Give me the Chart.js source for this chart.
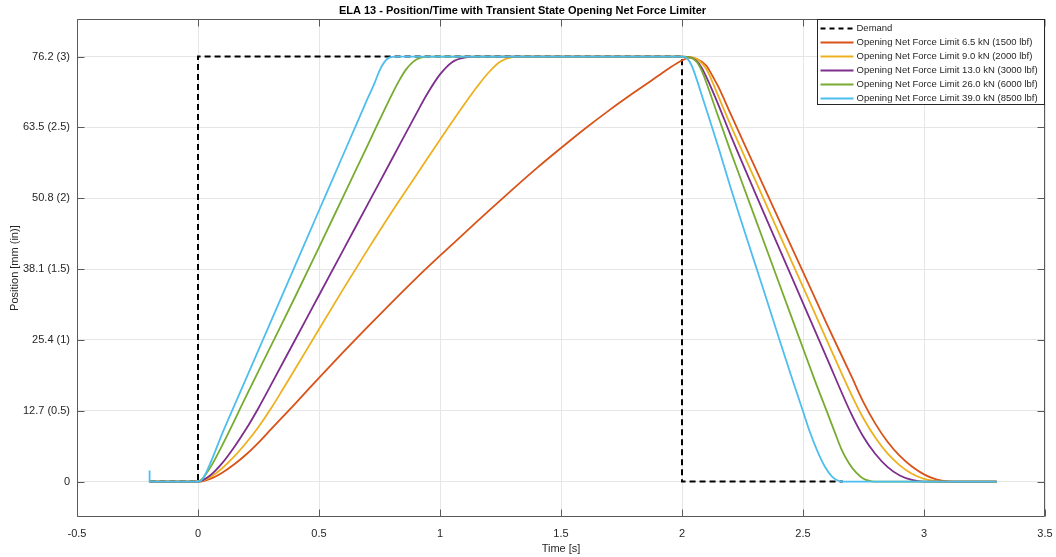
<!DOCTYPE html>
<html>
<head>
<meta charset="utf-8">
<script src="https://cdn.jsdelivr.net/npm/chart.js@4/dist/chart.umd.min.js"></script>
<style>
  html, body { margin: 0; padding: 0; background: #fff; }
</style>
</head>
<body>
<canvas id="chart" width="1056" height="557"></canvas>
<script>
// ticks
const xTicks = [-0.5, 0, 0.5, 1, 1.5, 2, 2.5, 3, 3.5];
const xTickLabels = ["-0.5", "0", "0.5", "1", "1.5", "2", "2.5", "3", "3.5"];
const yTicks = [0, 12.7, 25.4, 38.1, 50.8, 63.5, 76.2];
const yTickLabels = ["0", "12.7 (0.5)", "25.4 (1)", "38.1 (1.5)", "50.8 (2)", "63.5 (2.5)", "76.2 (3)"];

const seriesLabels = [
  "Demand",
  "Opening Net Force Limit 6.5 kN (1500 lbf)",
  "Opening Net Force Limit 9.0 kN (2000 lbf)",
  "Opening Net Force Limit 13.0 kN (3000 lbf)",
  "Opening Net Force Limit 26.0 kN (6000 lbf)",
  "Opening Net Force Limit 39.0 kN (8500 lbf)",
];

// demand step
const demandT = [-0.2, 0, 0, 2, 2, 2.665];
const demandV = [0, 0, 76.2, 76.2, 0, 0];

// 6.5 kN
const t65 = [-0.2, 0, 0.05, 0.1, 0.15, 0.2, 0.25, 0.3, 0.4, 0.5, 0.6, 0.7, 0.8, 0.9, 1.0, 1.1, 1.2, 1.3, 1.4, 1.5, 1.6, 1.7, 1.8, 1.9, 1.95,
  2.0, 2.03, 2.06, 2.1, 2.13, 2.15, 2.2, 2.3, 2.4, 2.5, 2.6, 2.7, 2.75, 2.8, 2.85, 2.9, 2.95, 3.0, 3.05, 3.1, 3.15, 3.3];
const v65 = [0, 0, 0.5, 1.6, 3.1, 4.9, 7, 9.3, 13.9, 18.6, 23.2, 27.7, 32.1, 36.4, 40.5, 44.5, 48.5, 52.4, 56.2, 59.8, 63.3, 66.6, 69.7, 72.7, 74.2,
  75.5, 76, 75.8, 74.6, 72.4, 70.8, 66, 56.5, 47, 37.6, 28.1, 18.9, 14.2, 10.3, 7.1, 4.6, 2.7, 1.3, 0.4, 0.05, 0, 0];

// 9.0 kN
const t90 = [-0.2, 0, 0.05, 0.1, 0.15, 0.2, 0.25, 0.3, 0.35, 0.4, 0.5, 0.6, 0.7, 0.8, 0.9, 1.0, 1.1, 1.15, 1.2, 1.25, 1.3, 1.35,
  2.0, 2.04, 2.07, 2.1, 2.13, 2.15, 2.2, 2.3, 2.4, 2.5, 2.6, 2.7, 2.75, 2.8, 2.85, 2.9, 2.95, 3.0, 3.05, 3.1, 3.3];
const v90 = [0, 0, 0.8, 2.4, 4.5, 7, 9.8, 13, 16.5, 20.1, 27.3, 34.5, 41.5, 48.3, 54.8, 61.3, 67.6, 70.6, 73.3, 75.3, 76.1, 76.2,
  76.2, 76.1, 75.5, 74, 71.2, 69.1, 64, 54.3, 44.6, 34.9, 25.2, 15.6, 11.3, 7.8, 5, 2.9, 1.4, 0.5, 0.1, 0, 0];

// 13.0 kN
const t130 = [-0.2, 0, 0.05, 0.1, 0.15, 0.2, 0.25, 0.3, 0.4, 0.5, 0.6, 0.7, 0.8, 0.9, 0.95, 1.0, 1.05, 1.1, 1.15,
  2.0, 2.03, 2.06, 2.08, 2.1, 2.15, 2.2, 2.3, 2.4, 2.5, 2.6, 2.7, 2.75, 2.8, 2.85, 2.9, 2.95, 3.0, 3.3];
const v130 = [0, 0, 1.1, 3.3, 6.2, 9.5, 13.2, 17.2, 25.3, 33.4, 41.5, 49.6, 57.7, 65.8, 69.7, 73, 75.2, 76, 76.2,
  76.2, 76.1, 75.4, 74.3, 72.6, 67.6, 62.2, 52, 42, 32, 22, 12.1, 8, 4.9, 2.6, 1.1, 0.3, 0, 0];

// 26.0 kN
const t260 = [-0.2, 0, 0.05, 0.1, 0.2, 0.3, 0.4, 0.5, 0.6, 0.7, 0.75, 0.8, 0.83, 0.86, 0.89, 0.92, 0.96,
  2.0, 2.03, 2.06, 2.08, 2.1, 2.15, 2.2, 2.25, 2.3, 2.35, 2.4, 2.45, 2.5, 2.55, 2.6, 2.63, 2.66, 2.69, 2.72, 2.75, 2.78, 2.8, 3.3];
const v260 = [0, 0, 2.5, 6.5, 15.4, 24.2, 33, 42, 51.1, 60.2, 64.8, 69.3, 71.8, 73.9, 75.3, 76, 76.2,
  76.2, 76.1, 75.3, 73.8, 71.6, 65.4, 59.3, 53.4, 47.5, 41.6, 35.7, 29.8, 23.9, 18, 12.4, 9, 5.7, 3.3, 1.6, 0.5, 0.1, 0, 0];

// 39.0 kN (starts with a small step at -0.2 s)
const t390 = [-0.2, -0.2, 0, 0.02, 0.05, 0.1, 0.2, 0.3, 0.4, 0.5, 0.6, 0.65, 0.7, 0.73, 0.75, 0.77, 0.79, 0.82,
  2.0, 2.02, 2.04, 2.06, 2.08, 2.1, 2.15, 2.2, 2.25, 2.3, 2.35, 2.4, 2.45, 2.5, 2.53, 2.56, 2.59, 2.62, 2.65, 2.68, 3.3];
const v390 = [2, 0, 0, 0.5, 3.2, 8.6, 18.6, 28.6, 38.6, 48.6, 58.6, 63.6, 68.6, 71.5, 73.7, 75.2, 76, 76.2,
  76.2, 75.9, 74.6, 72.2, 69.5, 66.8, 60, 52.8, 46, 39.3, 32.6, 25.8, 19.1, 12.6, 8.7, 5.4, 2.7, 0.9, 0.1, 0, 0];

const seriesT = [demandT, t65, t90, t130, t260, t390];
const seriesV = [demandV, v65, v90, v130, v260, v390];
const seriesColors = ["#000000", "#D95319", "#EDB120", "#7E2F8E", "#77AC30", "#4DBEEE"];

const FONT = "Arial, 'Liberation Sans', Helvetica, sans-serif";
const TEXT = "#262626";

const datasets = seriesLabels.map((label, i) => ({
  label,
  data: seriesT[i].map((t, k) => ({ x: t, y: seriesV[i][k] })),
  borderColor: seriesColors[i],
  borderWidth: i === 0 ? 2 : 1.8,
  borderDash: i === 0 ? [6, 4] : [],
  pointRadius: 0,
  fill: false,
  tension: 0,
  cubicInterpolationMode: i === 0 ? "default" : "monotone",
  order: seriesLabels.length - i,
}));

// axes box with inward ticks + legend inside the plot, MATLAB style
const axesDecor = {
  id: "axesDecor",
  afterDraw(chart) {
    const { ctx, chartArea: a } = chart;
    const xs = chart.scales.x, ys = chart.scales.y;
    const L = Math.round(a.left) + 0.5, R = Math.round(a.right) - 0.5;
    const T = Math.round(a.top) + 0.5, B = Math.round(a.bottom) - 0.5;
    ctx.save();
    ctx.strokeStyle = "#5a5a5a";
    ctx.lineWidth = 1;
    ctx.beginPath();
    ctx.rect(L, T, R - L, B - T);
    xTicks.forEach((v) => {
      const p = Math.round(xs.getPixelForValue(v)) + 0.5;
      ctx.moveTo(p, B); ctx.lineTo(p, B - 7);
      ctx.moveTo(p, T); ctx.lineTo(p, T + 7);
    });
    yTicks.forEach((v) => {
      const p = Math.round(ys.getPixelForValue(v)) + 0.5;
      ctx.moveTo(L, p); ctx.lineTo(L + 7, p);
      ctx.moveTo(R, p); ctx.lineTo(R - 7, p);
    });
    ctx.stroke();

    // legend
    const w = 228, rowH = 14, h = rowH * seriesLabels.length + 1;
    const lx = Math.round(a.right - w) + 0.5, ly = T;
    ctx.fillStyle = "#fff";
    ctx.fillRect(lx, ly, w, h);
    ctx.strokeStyle = "#262626";
    ctx.strokeRect(lx, ly, w - 1, h);
    ctx.font = "9.5px " + FONT;
    ctx.textBaseline = "middle";
    seriesLabels.forEach((label, i) => {
      const y = ly + 9 + rowH * i;
      ctx.beginPath();
      ctx.strokeStyle = seriesColors[i];
      ctx.lineWidth = i === 0 ? 2 : 1.8;
      ctx.setLineDash(i === 0 ? [5, 4] : []);
      ctx.moveTo(lx + 3, y);
      ctx.lineTo(lx + 36, y);
      ctx.stroke();
      ctx.setLineDash([]);
      ctx.fillStyle = TEXT;
      ctx.fillText(label, lx + 39, y);
    });
    ctx.restore();
  },
};

new Chart(document.getElementById("chart"), {
  type: "line",
  data: { datasets },
  options: {
    responsive: false,
    animation: false,
    devicePixelRatio: 1,
    layout: { padding: { left: 0, right: 11, top: 0, bottom: 0 } },
    scales: {
      x: {
        type: "linear",
        min: -0.5,
        max: 3.5,
        afterBuildTicks: (s) => { s.ticks = xTicks.map((v) => ({ value: v })); },
        afterFit: (s) => { s.height = 40; s.paddingLeft = 0; s.paddingRight = 0; },
        ticks: {
          callback: (v, i) => xTickLabels[i],
          autoSkip: false,
          maxRotation: 0,
          padding: 10,
          color: TEXT,
          font: { family: FONT, size: 11 },
        },
        grid: { color: "#e6e6e6", drawTicks: false },
        border: { display: false },
        title: {
          display: true,
          text: "Time [s]",
          color: TEXT,
          font: { family: FONT, size: 11 },
          padding: { top: 0, bottom: 1 },
        },
      },
      y: {
        type: "linear",
        min: -6.35,
        max: 82.9,
        afterBuildTicks: (s) => { s.ticks = yTicks.map((v) => ({ value: v })); },
        afterFit: (s) => { s.width = 77; },
        ticks: {
          callback: (v, i) => yTickLabels[i],
          autoSkip: false,
          padding: 7,
          color: TEXT,
          font: { family: FONT, size: 11 },
        },
        grid: { color: "#e6e6e6", drawTicks: false },
        border: { display: false },
        title: {
          display: true,
          text: "Position [mm (in)]",
          color: TEXT,
          font: { family: FONT, size: 11 },
          padding: { top: 8, bottom: 0 },
        },
      },
    },
    plugins: {
      legend: { display: false },
      tooltip: { enabled: false },
      title: {
        display: true,
        text: "ELA 13 - Position/Time with Transient State Opening Net Force Limiter",
        color: "#000",
        font: { family: FONT, size: 11, weight: "bold" },
        padding: { top: 4, bottom: 2 },
      },
    },
  },
  plugins: [axesDecor],
});
</script>
</body>
</html>
